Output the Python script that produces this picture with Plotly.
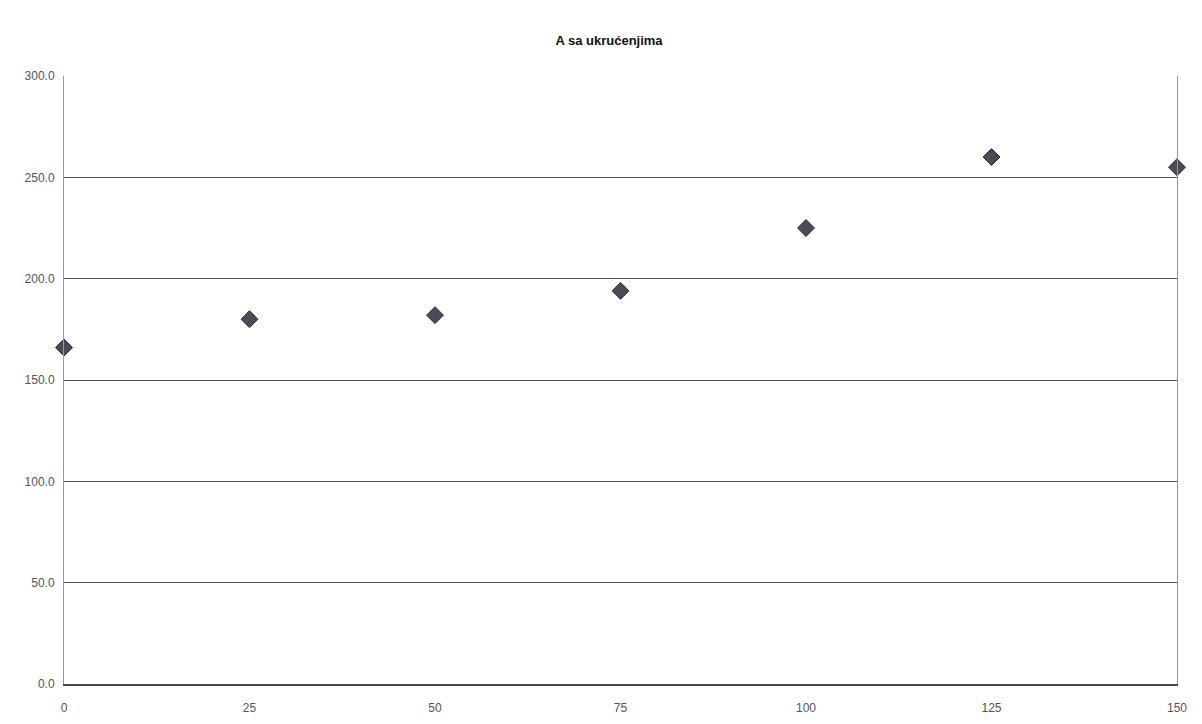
import plotly.graph_objects as go

x_vals = [0, 25, 50, 75, 100, 125, 150]
y_vals = [166, 180, 182, 194, 225, 260, 255]
y_ticks = [0, 50, 100, 150, 200, 250, 300]
x_ticks = [0, 25, 50, 75, 100, 125, 150]
title_text = "A sa ukrućenjima"

fig = go.Figure()
fig.add_trace(go.Scatter(
    x=x_vals, y=y_vals, mode="markers",
    marker=dict(symbol="diamond", size=13, color="#4a4a58",
                line=dict(color="#2a2a30", width=1)),
    cliponaxis=False, showlegend=False,
))
fig.update_layout(
    width=1202, height=724,
    paper_bgcolor="white", plot_bgcolor="white",
    margin=dict(l=56, r=33, t=68, b=48),
    title=dict(text="<b>" + title_text + "</b>", x=0.5, xanchor="center",
               y=0.955, yanchor="middle",
               font=dict(family="Liberation Sans, Arial", size=13, color="#111")),
    font=dict(family="Liberation Sans, Arial", size=12, color="#555"),
)
fig.update_xaxes(range=[0, 150], tickvals=x_ticks, showgrid=False,
                 showline=True, linecolor="#444", linewidth=1.5, mirror=False,
                 ticks="", zeroline=False, ticklabelstandoff=12,
                 tickfont=dict(size=12, color="#555"))
fig.update_yaxes(range=[0, 300], tickvals=y_ticks, tickformat=".1f",
                 showgrid=True, gridcolor="#555", gridwidth=1,
                 showline=True, linecolor="#999", linewidth=1, mirror=True,
                 ticks="", zeroline=False, ticklabelstandoff=6,
                 tickfont=dict(size=12, color="#555"))
fig.write_html("out.html")
